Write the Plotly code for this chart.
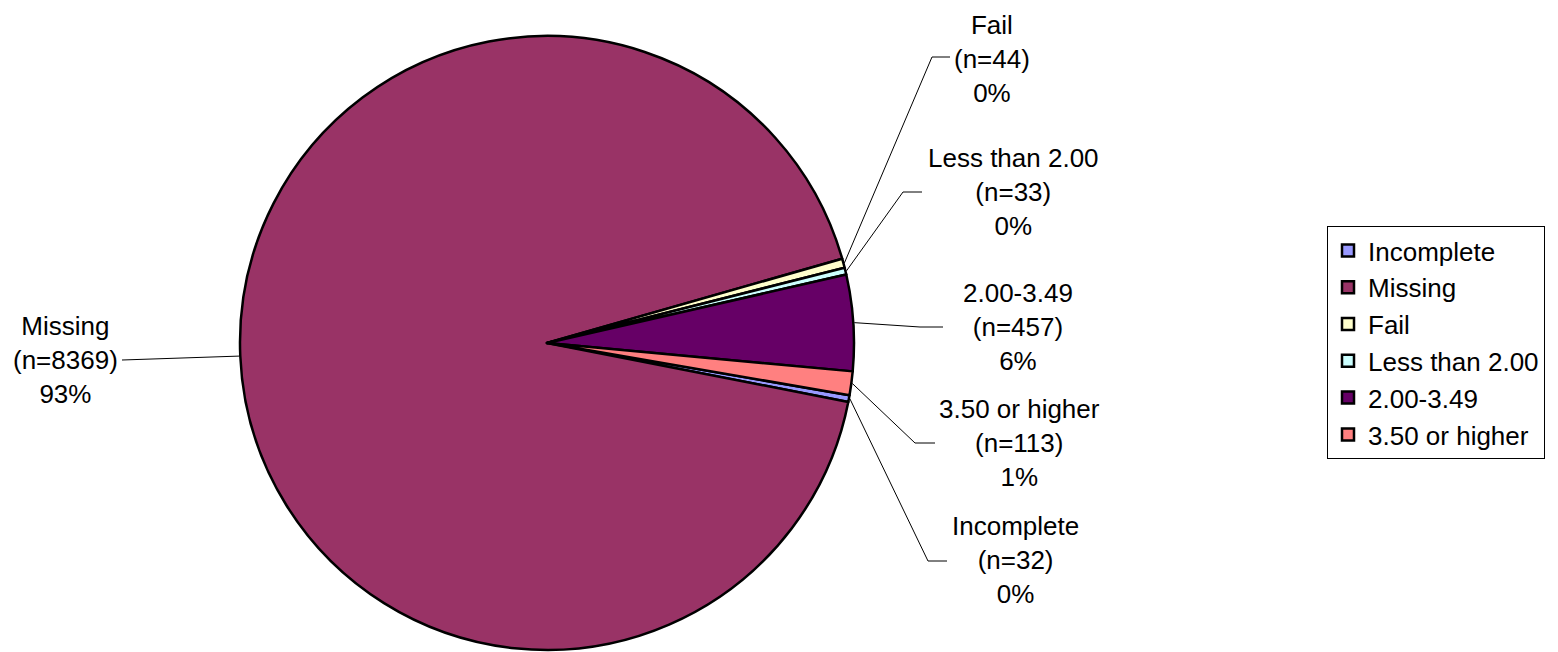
import math
import plotly.graph_objects as go

# ---- data ----
categories = ["Incomplete", "Missing", "Fail", "Less than 2.00", "2.00-3.49", "3.50 or higher"]
counts = [32, 8369, 44, 33, 457, 113]
percent_labels = ["0%", "93%", "0%", "0%", "6%", "1%"]
colors = ["#9999FF", "#993366", "#FFFFCC", "#CCFFFF", "#660066", "#FF8080"]

# ---- layout constants (pixels in the 1558x652 window) ----
PAGE_OFFSET = 8          # default body margin of the html page
W, H = 1558 - PAGE_OFFSET, 652 - PAGE_OFFSET
CX, CY, R = 547, 343, 307
ROTATION = 99.8
FONT = "Arial, Liberation Sans, sans-serif"

# label text centers and leader-line elbows / ends, per category (window pixels)
label_pos = {
    "Incomplete": ((1015, 560), (928, 561), (947, 561)),
    "Missing": ((65, 360), (122, 360), (122, 360)),
    "Fail": ((992, 59), (932, 57), (950, 57)),
    "Less than 2.00": ((1013, 192), (903, 192), (922, 192)),
    "2.00-3.49": ((1018, 327), (920, 327), (943, 327)),
    "3.50 or higher": ((1019, 443), (915, 443), (935, 443)),
}


def px(x):
    return (x - PAGE_OFFSET) / W


def py(y):
    return 1 - (y - PAGE_OFFSET) / H


fig = go.Figure()
fig.add_trace(go.Pie(
    labels=categories,
    values=counts,
    sort=False,
    direction="clockwise",
    rotation=ROTATION,
    textinfo="none",
    marker=dict(colors=colors, line=dict(color="black", width=2.5)),
    domain=dict(x=[px(CX - R), px(CX + R)], y=[py(CY + R), py(CY - R)]),
    showlegend=True,
))

total = sum(counts)
cum = 0
shapes = []
annotations = []
for cat, v, pct in zip(categories, counts, percent_labels):
    theta = math.radians(ROTATION + (cum + v / 2) / total * 360)
    cum += v
    ex = CX + (R + 1) * math.sin(theta)
    ey = CY - (R + 1) * math.cos(theta)
    (tx, ty), (bx, by), (lx, ly) = label_pos[cat]
    path = f"M {px(ex)} {py(ey)} L {px(bx)} {py(by)} L {px(lx)} {py(ly)}"
    shapes.append(dict(type="path", xref="paper", yref="paper", path=path,
                       line=dict(color="black", width=1)))
    annotations.append(dict(
        x=px(tx), y=py(ty), xref="paper", yref="paper",
        text=f"{cat}<br>(n={v})<br>{pct}", showarrow=False,
        xanchor="center", yanchor="middle", align="center",
        font=dict(family=FONT, size=26, color="black"),
    ))

fig.update_layout(
    width=W, height=H,
    margin=dict(l=0, r=0, t=0, b=0),
    paper_bgcolor="white", plot_bgcolor="white",
    shapes=shapes, annotations=annotations,
    legend=dict(
        x=px(1327), y=py(226), xanchor="left", yanchor="top",
        bordercolor="black", borderwidth=1, bgcolor="white",
        font=dict(family=FONT, size=26, color="black"),
        traceorder="normal",
    ),
)

fig.write_html("out.html")
